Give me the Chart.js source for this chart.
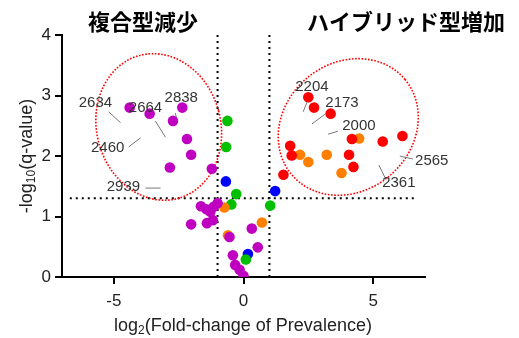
<!DOCTYPE html>
<html>
<head>
<meta charset="utf-8">
<script src="https://cdn.jsdelivr.net/npm/chart.js@4.4.1/dist/chart.umd.min.js"></script>
<style>
  html, body { margin: 0; padding: 0; background: #fff; }
  #wrap { width: 519px; height: 338px; position: relative; }
</style>
</head>
<body>
<div id="wrap"><canvas id="volcano"></canvas></div>
<script>
// log2 fold-change (x) and -log10 q (y), grouped by marker colour
const PURPLE_X = [-4.39, -3.62, -2.36, -2.72, -2.18, -2.02, -2.84, -1.22, -1.64, -1.43, -1.28, -1.15, -1.0, -2.02, -1.41, -1.18, -0.54, -0.41, -0.32, -0.15, 0.0, 0.32, 0.55];
const PURPLE_Y = [2.80, 2.70, 2.80, 2.58, 2.28, 2.02, 1.81, 1.79, 1.17, 1.12, 1.08, 1.16, 1.22, 0.87, 0.89, 0.94, 0.66, 0.36, 0.20, 0.12, 0.02, 0.80, 0.49];
const RED_X = [2.50, 2.72, 3.36, 4.18, 5.37, 6.13, 1.80, 1.86, 4.07, 4.24, 1.54];
const RED_Y = [2.97, 2.80, 2.70, 2.28, 2.24, 2.33, 2.17, 2.01, 2.02, 1.82, 1.69];
const ORANGE_X = [4.46, 2.18, 2.50, 3.21, 3.78, -0.74, -0.60, 0.71];
const ORANGE_Y = [2.29, 2.02, 1.90, 2.02, 1.72, 1.15, 0.69, 0.90];
const GREEN_X = [-0.62, -0.67, -0.28, -0.47, 0.09, 1.03];
const GREEN_Y = [2.58, 2.15, 1.37, 1.20, 0.29, 1.18];
const BLUE_X = [-0.68, 0.17, 1.22];
const BLUE_Y = [1.58, 0.38, 1.42];

const X_TICKS = [-5, 0, 5];
const Y_TICKS = [0, 1, 2, 3, 4];

// callouts: label, text anchor, leader line (data units)
const CALLOUT_TEXT = ['2634', '2664', '2838', '2460', '2939', '2204', '2173', '2000', '2565', '2361'];
const CALLOUT_AT = [[-5.71, 2.88], [-3.78, 2.79], [-2.40, 2.96], [-5.24, 2.13], [-4.63, 1.49],
                    [2.64, 3.14], [3.80, 2.88], [4.45, 2.50], [7.26, 1.92], [5.99, 1.55]];
const CALLOUT_LINE = [[-5.20, 2.73, -4.74, 2.55], [-3.40, 2.58, -3.01, 2.31], [-2.63, 2.71, -2.59, 2.64],
                      [-4.43, 2.15, -3.97, 2.30], [-3.78, 1.47, -3.20, 1.47], [2.45, 2.89, 2.30, 2.73],
                      [3.14, 2.69, 2.64, 2.53], [3.64, 2.41, 3.26, 2.36], [6.53, 1.95, 6.03, 2.00],
                      [5.45, 1.65, 5.22, 1.85]];

const FC_CUT = 1;
const Q_CUT = 1.3;

const FONT = "'Liberation Sans', Arial, sans-serif";
const JP_FONT = "'Noto Sans CJK JP', sans-serif";

const toPoints = (xs, ys) => xs.map((x, i) => ({ x, y: ys[i] }));

const dotSet = (label, xs, ys, color) => ({
  label,
  data: toPoints(xs, ys),
  backgroundColor: color,
  borderColor: color,
  borderWidth: 0,
  pointRadius: 5.3,
  pointHoverRadius: 5.3,
});

// threshold lines + highlight ellipses under the dots
const guidePlugin = {
  id: 'guides',
  beforeDatasetsDraw(chart) {
    const { ctx, scales: { x, y } } = chart;
    ctx.save();
    ctx.strokeStyle = '#000';
    ctx.lineWidth = 2;
    ctx.setLineDash([2, 4]);
    ctx.beginPath();
    [-FC_CUT, FC_CUT].forEach(v => {
      ctx.moveTo(x.getPixelForValue(v), y.getPixelForValue(4));
      ctx.lineTo(x.getPixelForValue(v), y.getPixelForValue(0));
    });
    ctx.moveTo(x.getPixelForValue(-6.7), y.getPixelForValue(Q_CUT));
    ctx.lineTo(x.getPixelForValue(6.7), y.getPixelForValue(Q_CUT));
    ctx.stroke();

    // red dotted rings around the labelled groups
    ctx.strokeStyle = '#ff0000';
    ctx.lineWidth = 1.6;
    ctx.setLineDash([1.6, 1.6]);
    const rings = [
      { cx: -3.27, cy: 2.48, rx: 62, ry: 74, rot: -15 },
      { cx: 4.04, cy: 2.48, rx: 74, ry: 64, rot: -40 },
    ];
    rings.forEach(r => {
      ctx.beginPath();
      ctx.ellipse(x.getPixelForValue(r.cx), y.getPixelForValue(r.cy), r.rx, r.ry, r.rot * Math.PI / 180, 0, Math.PI * 2);
      ctx.stroke();
    });
    ctx.restore();
  },
  afterDraw(chart) {
    const { ctx, scales: { x, y } } = chart;
    ctx.save();

    // callout numbers
    ctx.strokeStyle = '#777';
    ctx.lineWidth = 1;
    ctx.setLineDash([]);
    CALLOUT_LINE.forEach(l => {
      ctx.beginPath();
      ctx.moveTo(x.getPixelForValue(l[0]), y.getPixelForValue(l[1]));
      ctx.lineTo(x.getPixelForValue(l[2]), y.getPixelForValue(l[3]));
      ctx.stroke();
    });
    ctx.fillStyle = '#333';
    ctx.font = `15px ${FONT}`;
    ctx.textAlign = 'center';
    ctx.textBaseline = 'middle';
    CALLOUT_TEXT.forEach((t, i) => {
      ctx.fillText(t, x.getPixelForValue(CALLOUT_AT[i][0]), y.getPixelForValue(CALLOUT_AT[i][1]));
    });

    // group headings
    ctx.fillStyle = '#000';
    ctx.font = `bold 22px ${JP_FONT}`;
    ctx.fillText('複合型減少', 143, 22);
    ctx.fillText('ハイブリッド型増加', 406, 22);

    // axis titles with subscripts
    const drawSub = (parts, cx, cy, rotate) => {
      ctx.save();
      ctx.translate(cx, cy);
      if (rotate) ctx.rotate(-Math.PI / 2);
      const big = `18px ${FONT}`;
      const small = `12px ${FONT}`;
      let total = 0;
      parts.forEach(p => { ctx.font = p.sub ? small : big; total += ctx.measureText(p.t).width; });
      let px = -total / 2;
      ctx.textAlign = 'left';
      ctx.textBaseline = 'middle';
      ctx.fillStyle = '#222';
      parts.forEach(p => {
        ctx.font = p.sub ? small : big;
        ctx.fillText(p.t, px, p.sub ? 5 : 0);
        px += ctx.measureText(p.t).width;
      });
      ctx.restore();
    };
    drawSub([{ t: 'log' }, { t: '2', sub: true }, { t: '(Fold-change of Prevalence)' }], 243, 326, false);
    drawSub([{ t: '-log' }, { t: '10', sub: true }, { t: '(q-value)' }], 27, 156, true);

    ctx.restore();
  },
};

new Chart(document.getElementById('volcano'), {
  type: 'scatter',
  data: {
    datasets: [
      dotSet('purple', PURPLE_X, PURPLE_Y, '#c000c0'),
      dotSet('red', RED_X, RED_Y, '#ff0000'),
      dotSet('orange', ORANGE_X, ORANGE_Y, '#ff8000'),
      dotSet('green', GREEN_X, GREEN_Y, '#00c000'),
      dotSet('blue', BLUE_X, BLUE_Y, '#0000ff'),
    ],
  },
  options: {
    responsive: true,
    maintainAspectRatio: false,
    animation: false,
    layout: { padding: { top: 35, right: 94, left: 0, bottom: 0 } },
    plugins: {
      legend: { display: false },
      tooltip: { enabled: false },
    },
    scales: {
      x: {
        type: 'linear',
        min: -7,
        max: 7,
        afterBuildTicks: (axis) => { axis.ticks = X_TICKS.map(v => ({ value: v })); },
        afterFit: (axis) => { axis.height = 61; },
        grid: { drawOnChartArea: false, drawTicks: true, tickLength: 7, color: '#000', lineWidth: 2 },
        border: { color: '#000', width: 2 },
        ticks: { color: '#222', padding: 7, font: { family: FONT, size: 17 } },
      },
      y: {
        type: 'linear',
        min: 0,
        max: 4,
        afterBuildTicks: (axis) => { axis.ticks = Y_TICKS.map(v => ({ value: v })); },
        afterFit: (axis) => { axis.width = 62; },
        grid: { drawOnChartArea: false, drawTicks: true, tickLength: 7, color: '#000', lineWidth: 2 },
        border: { color: '#000', width: 2 },
        ticks: { color: '#222', padding: 4, font: { family: FONT, size: 17 } },
      },
    },
  },
  plugins: [guidePlugin],
});
</script>
</body>
</html>
